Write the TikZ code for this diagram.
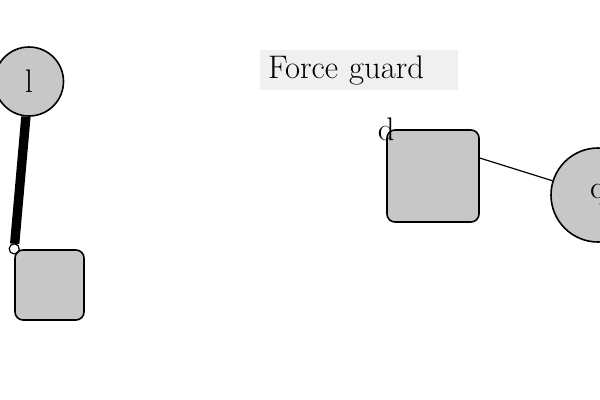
\documentclass[tikz,border=0pt]{standalone}
\usetikzlibrary{arrows.meta}
\begin{document}
\begin{tikzpicture}[x=0.75pt,y=-0.75pt,
  every node/.style={font=\fontsize{24.5}{29}\selectfont},
  blob/.style={circle,draw,fill=black!22,line width=1.2pt,inner sep=0pt},
  rbox/.style={rectangle,draw,fill=black!22,rounded corners=6pt,line width=1.2pt,inner sep=0pt},
  link/.style={draw,line width=0.9pt}]
\useasboundingbox (0,0) rectangle (600,400);
\node[blob,minimum size=51.75pt] (l) at (29,81.5) {l};
\node[rbox,minimum width=51.75pt,minimum height=52.5pt] (s) at (49.5,285) {};
\node[rbox,minimum size=69pt,label={[anchor=center,inner sep=0pt,label distance=0pt]north west:d}] (d) at (433,176) {};
\node[blob,minimum size=70.5pt] (q) at (598,195) {q};
\node[fill=black!6,minimum width=148.5pt,minimum height=30pt,text width=136.5pt,align=left,inner xsep=6pt,inner ysep=0pt] (t) at (359,70) {Force guard};
\draw[line width=7pt,-{Circle[open,length=8.5pt,width=8.5pt,line width=0.9pt]},shorten >=-4pt] (l) -- (s.north west);
\draw[link] (d.21) -- (q);
\end{tikzpicture}
\end{document}
